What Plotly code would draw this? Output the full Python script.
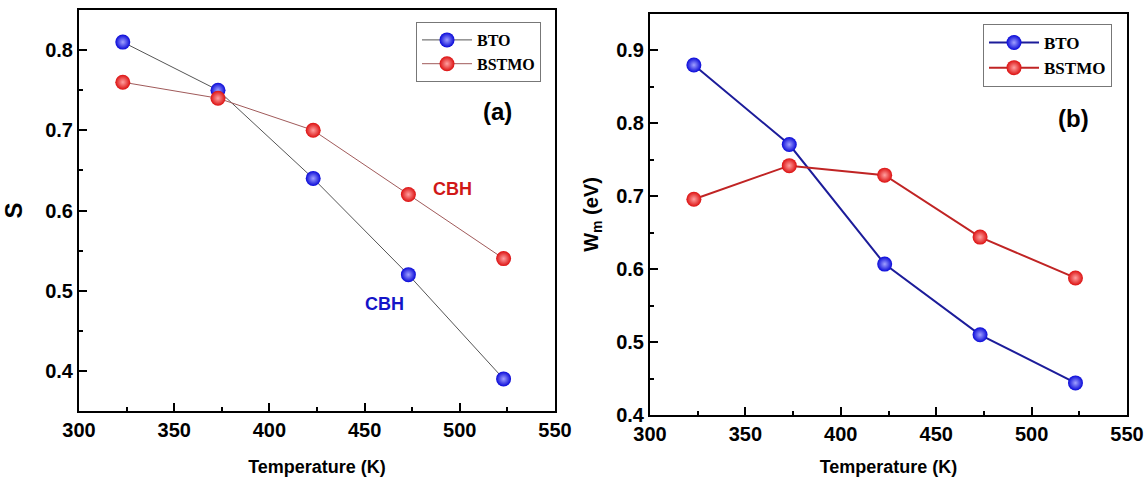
import plotly.graph_objects as go

# Temperatures (K)
temperature = [323, 373, 423, 473, 523]

# Panel (a): S parameter
s_bto = [0.81, 0.75, 0.64, 0.52, 0.39]
s_bstmo = [0.76, 0.74, 0.70, 0.62, 0.54]

# Panel (b): W_m (eV)
wm_bto = [0.880, 0.771, 0.607, 0.510, 0.444]
wm_bstmo = [0.696, 0.742, 0.729, 0.644, 0.588]

x_ticks = [300, 350, 400, 450, 500, 550]
s_ticks = [0.4, 0.5, 0.6, 0.7, 0.8]
wm_ticks = [0.4, 0.5, 0.6, 0.7, 0.8, 0.9]

FONT = "Liberation Sans"
SERIF = "Liberation Serif"


def bold_labels(vals, fmt):
    return ["<b>" + fmt.format(v) + "</b>" for v in vals]


blue_ball = dict(size=15, color="#0808d8", line=dict(width=0),
                 gradient=dict(type="radial", color="#a0a0ff"))
red_ball = dict(size=15, color="#dc1010", line=dict(width=0),
                gradient=dict(type="radial", color="#ffa0a0"))

fig = go.Figure()

# Panel (a)
fig.add_trace(go.Scatter(x=temperature, y=s_bto, mode="lines+markers", name="<b>BTO</b>",
                         line=dict(color="#555555", width=1), marker=blue_ball,
                         xaxis="x", yaxis="y", legend="legend"))
fig.add_trace(go.Scatter(x=temperature, y=s_bstmo, mode="lines+markers", name="<b>BSTMO</b>",
                         line=dict(color="#a05a5a", width=1), marker=red_ball,
                         xaxis="x", yaxis="y", legend="legend"))

# Panel (b)
fig.add_trace(go.Scatter(x=temperature, y=wm_bto, mode="lines+markers", name="<b>BTO</b>",
                         line=dict(color="#1c1c9a", width=2), marker=blue_ball,
                         xaxis="x2", yaxis="y2", legend="legend2"))
fig.add_trace(go.Scatter(x=temperature, y=wm_bstmo, mode="lines+markers", name="<b>BSTMO</b>",
                         line=dict(color="#c02424", width=2), marker=red_ball,
                         xaxis="x2", yaxis="y2", legend="legend2"))

W, H = 1148, 477


def px_x(p):
    return p / W


def px_y(p):
    return 1 - p / H


axis_common = dict(showline=True, linecolor="black", linewidth=2, mirror=True,
                   ticks="inside", ticklen=8, tickwidth=2, tickcolor="black",
                   showgrid=False, zeroline=False, automargin=False,
                   tickfont=dict(family=FONT, size=20, color="black"))

x_common = dict(axis_common, range=[300, 550], tickvals=x_ticks,
                ticktext=bold_labels(x_ticks, "{:d}"),
                minor=dict(ticks="inside", ticklen=4, tickwidth=2, dtick=25, tick0=300,
                           tickcolor="black", showgrid=False),
                title=dict(text="<b>Temperature (K)</b>",
                           font=dict(family=FONT, size=18, color="black"), standoff=22))

fig.update_layout(
    width=W, height=H, margin=dict(l=0, r=0, t=0, b=0, autoexpand=False),
    paper_bgcolor="white", plot_bgcolor="white",
    xaxis=dict(x_common, domain=[px_x(79), px_x(555)], anchor="y"),
    yaxis=dict(axis_common, domain=[px_y(411), px_y(10)], anchor="x", range=[0.35, 0.85],
               tickvals=s_ticks, ticktext=bold_labels(s_ticks, "{:.1f}"),
               minor=dict(ticks="inside", ticklen=4, tickwidth=2, dtick=0.05, tick0=0.35,
                          tickcolor="black", showgrid=False),
               title=dict(text="<b>S</b>", font=dict(family=FONT, size=24, color="black"),
                          standoff=20)),
    xaxis2=dict(x_common, domain=[px_x(650), px_x(1127)], anchor="y2"),
    yaxis2=dict(axis_common, domain=[px_y(415), px_y(14)], anchor="x2", range=[0.4, 0.95],
                tickvals=wm_ticks, ticktext=bold_labels(wm_ticks, "{:.1f}"),
                minor=dict(ticks="inside", ticklen=4, tickwidth=2, dtick=0.05, tick0=0.4,
                           tickcolor="black", showgrid=False),
                title=dict(text="<b>W<sub>m</sub> (eV)</b>",
                           font=dict(family=FONT, size=20, color="black"), standoff=12)),
    legend=dict(x=px_x(541), y=px_y(22), xanchor="right", yanchor="top",
                bordercolor="#777777", borderwidth=1, bgcolor="white",
                font=dict(family=SERIF, size=16, color="black"),
                tracegroupgap=0, itemwidth=50),
    legend2=dict(x=px_x(1112), y=px_y(24), xanchor="right", yanchor="top",
                 bordercolor="#777777", borderwidth=1, bgcolor="white",
                 font=dict(family=SERIF, size=17, color="black"),
                 tracegroupgap=0, itemwidth=50),
    showlegend=True,
)

fig.add_annotation(x=519.6, y=0.723, xref="x", yref="y", text="<b>(a)</b>", showarrow=False,
                   font=dict(family=FONT, size=24, color="black"))
fig.add_annotation(x=496, y=0.627, xref="x", yref="y", text="<b>CBH</b>", showarrow=False,
                   font=dict(family=FONT, size=18, color="#d01818"))
fig.add_annotation(x=460.5, y=0.484, xref="x", yref="y", text="<b>CBH</b>", showarrow=False,
                   font=dict(family=FONT, size=18, color="#1414c8"))
fig.add_annotation(x=521.9, y=0.806, xref="x2", yref="y2", text="<b>(b)</b>", showarrow=False,
                   font=dict(family=FONT, size=24, color="black"))

fig.write_html("out.html")
